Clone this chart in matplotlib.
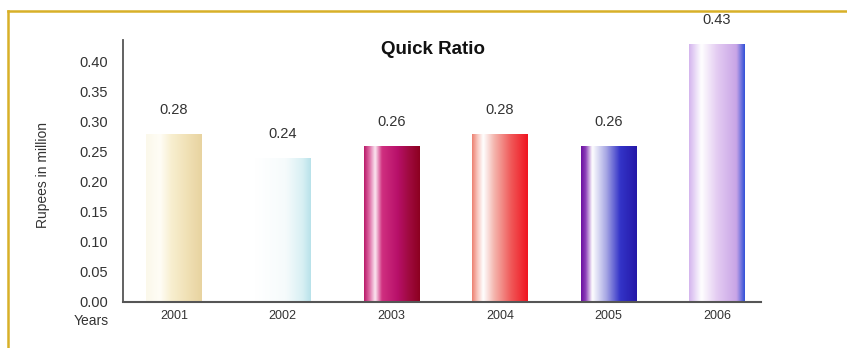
import numpy as np
import matplotlib
matplotlib.use("Agg")
import matplotlib.pyplot as plt
from matplotlib.colors import LinearSegmentedColormap
from matplotlib.lines import Line2D

years = ["2001", "2002", "2003", "2004", "2005", "2006"]
quick_ratio = [0.28, 0.24, 0.26, 0.28, 0.26, 0.43]
value_labels = ["0.28", "0.24", "0.26", "0.28", "0.26", "0.43"]
yticks = [0.00, 0.05, 0.10, 0.15, 0.20, 0.25, 0.30, 0.35, 0.40]

# horizontal shading of each bar: (position across bar, colour)
bar_shades = [
    [(0.0, "#fbf8ea"), (0.25, "#fffdf6"), (0.45, "#f8efd0"), (0.75, "#f0e0b4"), (1.0, "#e8d3a0")],
    [(0.0, "#ffffff"), (0.55, "#f6fbfc"), (0.85, "#d8f0f4"), (1.0, "#b8e2ea")],
    [(0.0, "#b81868"), (0.1, "#e070a8"), (0.2, "#fbe8f2"), (0.32, "#d03080"), (0.6, "#b8106a"), (0.8, "#a00a40"), (1.0, "#8c0020")],
    [(0.0, "#ec8070"), (0.1, "#f8c8c0"), (0.2, "#ffffff"), (0.4, "#f4b4ac"), (0.7, "#f05858"), (1.0, "#f01420")],
    [(0.0, "#6a10a0"), (0.08, "#8a3cb8"), (0.2, "#ffffff"), (0.45, "#a8a8e4"), (0.7, "#3434c8"), (1.0, "#2418a8")],
    [(0.0, "#d4b4ee"), (0.22, "#ffffff"), (0.5, "#e4ccf2"), (0.85, "#c8a4e6"), (1.0, "#3050d8")],
]

plt.rcParams["font.family"] = ["Liberation Sans", "DejaVu Sans"]

fig = plt.figure(figsize=(8.47, 3.48), dpi=100)
ax = fig.add_axes([0.1452, 0.1336, 0.7533, 0.7586])

x = np.arange(len(years))
bars = ax.bar(x, quick_ratio, width=0.51, facecolor="none", edgecolor="none")

grad = np.linspace(0, 1, 256).reshape(1, -1)
for bar, stops in zip(bars, bar_shades):
    cmap = LinearSegmentedColormap.from_list("shade", stops)
    x0, w, h = bar.get_x(), bar.get_width(), bar.get_height()
    im = ax.imshow(grad, cmap=cmap, aspect="auto", extent=[x0, x0 + w, 0, h],
                   interpolation="bicubic", zorder=2)
    im.set_clip_path(bar)

for xi, v, lab in zip(x, quick_ratio, value_labels):
    ax.text(xi, v + 0.04, lab, ha="center", va="center", fontsize=10.5, color="#333333")

ax.set_xlim(-0.47, 5.405)
ax.set_ylim(0, 0.44)
ax.set_yticks(yticks)
ax.set_yticklabels([f"{t:.2f}" for t in yticks], fontsize=10.5, color="#333333")
ax.set_xticks(x)
ax.set_xticklabels(years, fontsize=9, color="#333333")
ax.tick_params(axis="y", length=0, pad=11)
ax.tick_params(axis="x", length=0, pad=6)

for s in ("top", "right"):
    ax.spines[s].set_visible(False)
ax.spines["left"].set_color("#555555")
ax.spines["bottom"].set_color("#555555")
ax.spines["left"].set_linewidth(1.3)
ax.spines["bottom"].set_linewidth(1.5)
ax.spines["left"].set_bounds(0, 0.436)

ax.text(0.486, 0.955, "Quick Ratio", transform=ax.transAxes, ha="center", va="center",
        fontsize=13.5, fontweight="bold", color="#111111")

fig.text(43 / 847, 1 - 175 / 348, "Rupees in million", rotation=90, ha="center", va="center",
         fontsize=10, color="#333333")
fig.text(91 / 847, 1 - 321 / 348, "Years", ha="center", va="center", fontsize=10, color="#333333")

# gold frame along the top and left edges
gold = "#d8b028"
fig.add_artist(Line2D([8 / 847, 1.0], [1 - 11 / 348, 1 - 11 / 348], color=gold, lw=1.8,
                      transform=fig.transFigure))
fig.add_artist(Line2D([8 / 847, 8 / 847], [0.0, 1 - 11 / 348], color=gold, lw=1.8,
                      transform=fig.transFigure))

fig.savefig("out.png", dpi=100)
